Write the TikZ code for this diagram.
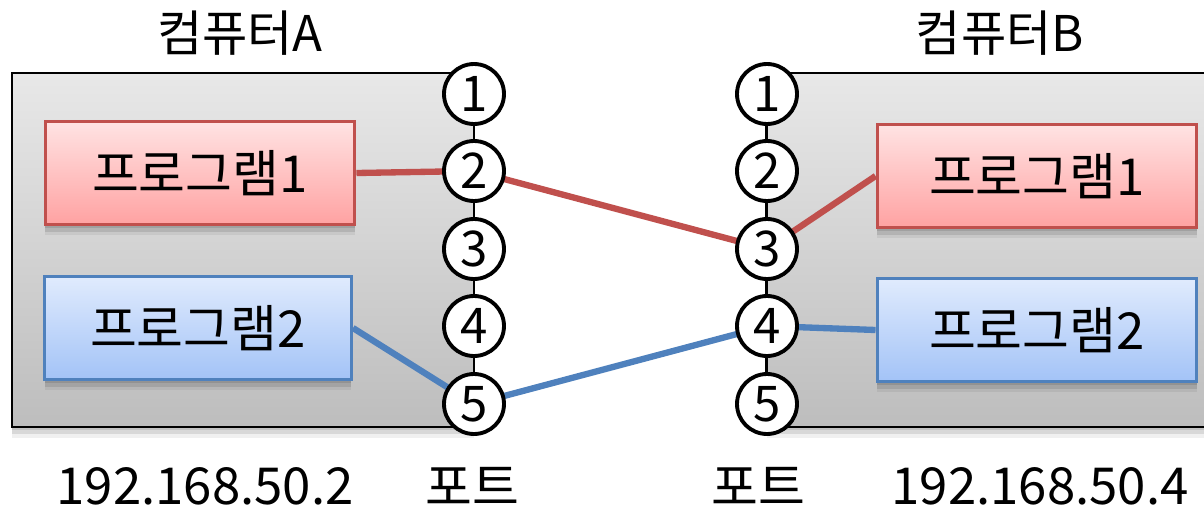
\documentclass[tikz,border=0pt]{standalone}
\usepackage{fontspec}
\setmainfont{Noto Sans CJK KR}

\definecolor{redline}{HTML}{C0504D}
\definecolor{redtop}{HTML}{FFE3E3}
\definecolor{redbot}{HTML}{FFA2A2}
\definecolor{blueline}{HTML}{4F81BD}
\definecolor{bluetop}{HTML}{E0EBFD}
\definecolor{bluebot}{HTML}{A3C3F7}
\definecolor{pctop}{HTML}{E8E8E8}
\definecolor{pcbot}{HTML}{BDBDBD}

\pgfdeclarelayer{frame}
\pgfdeclarelayer{wires}
\pgfsetlayers{frame,wires,main}

\tikzset{
  softshadow/.style={
    preaction={fill=black, opacity=0.10, transform canvas={yshift=-2pt}},
    preaction={fill=black, opacity=0.10, transform canvas={yshift=-4pt}},
    preaction={fill=black, opacity=0.06, transform canvas={yshift=-6pt}}},
  pc/.style={draw=black, line width=1.6pt, top color=pctop, bottom color=pcbot,
    minimum height=7.08cm, inner sep=0pt, softshadow},
  prog/.style={line width=1.7pt, minimum height=2.06cm, inner sep=0pt,
    font=\fontsize{29}{32}\selectfont, softshadow},
  redprog/.style={prog, draw=redline, top color=redtop, bottom color=redbot},
  blueprog/.style={prog, draw=blueline, top color=bluetop, bottom color=bluebot},
  port/.style={draw, circle, line width=2.2pt, fill=white, minimum size=1.2cm,
    inner sep=0pt, font=\fontsize{28}{28}\selectfont},
  pctitle/.style={font=\fontsize{28}{30}\selectfont},
  addr/.style={inner sep=0pt, font=\fontsize{29}{31}\selectfont},
  redwire/.style={draw=redline, line width=3.6pt},
  bluewire/.style={draw=blueline, line width=3.6pt},
}

\begin{document}
\begin{tikzpicture}[x=0.02cm, y=-0.02cm]
\useasboundingbox (0,0) rectangle (1204,514);

% computers
\begin{pgfonlayer}{frame}
\node[pc, minimum width=9.24cm] (pcA) at (243,250) {};
\node[pc, minimum width=8.94cm] (pcB) at (990,250) {};
\end{pgfonlayer}
\node[pctitle] (tA) at (240,33) {컴퓨터A};
\node[pctitle] (tB) at (1000,33) {컴퓨터B};

% programs
\node[redprog, minimum width=6.2cm] (pa1) at (200,173) {프로그램1};
\node[blueprog, minimum width=6.14cm] (pa2) at (198,328) {프로그램2};
\node[redprog, minimum width=6.4cm] (pb1) at (1037,176) {프로그램1};
\node[blueprog, minimum width=6.4cm] (pb2) at (1037,330) {프로그램2};

% ports
\node[port] (a1) at (474,94) {1};
\node[port] (a2) at (474,171) {2};
\node[port] (a3) at (474,249) {3};
\node[port] (a4) at (474,326) {4};
\node[port] (a5) at (474,404) {5};
\node[port] (b1) at (767,94) {1};
\node[port] (b2) at (767,171) {2};
\node[port] (b3) at (767,249) {3};
\node[port] (b4) at (767,326) {4};
\node[port] (b5) at (767,404) {5};

% connections
\begin{pgfonlayer}{wires}
\path[redwire] (pa1.east) -- (a2.center);
\path[redwire] (a2.center) -- (b3.center);
\path[redwire] (b3.center) -- (pb1.west);
\path[bluewire] (pa2.east) -- (a5.center);
\path[bluewire] (a5.center) -- (b4.center);
\path[bluewire] (b4.center) -- (pb2.west);
\end{pgfonlayer}

% addresses
\node[addr] (ipA) at (205,486) {192.168.50.2};
\node[addr] (ptA) at (472,486) {포트};
\node[addr] (ptB) at (758,486) {포트};
\node[addr] (ipB) at (1040,486) {192.168.50.4};

\end{tikzpicture}
\end{document}
